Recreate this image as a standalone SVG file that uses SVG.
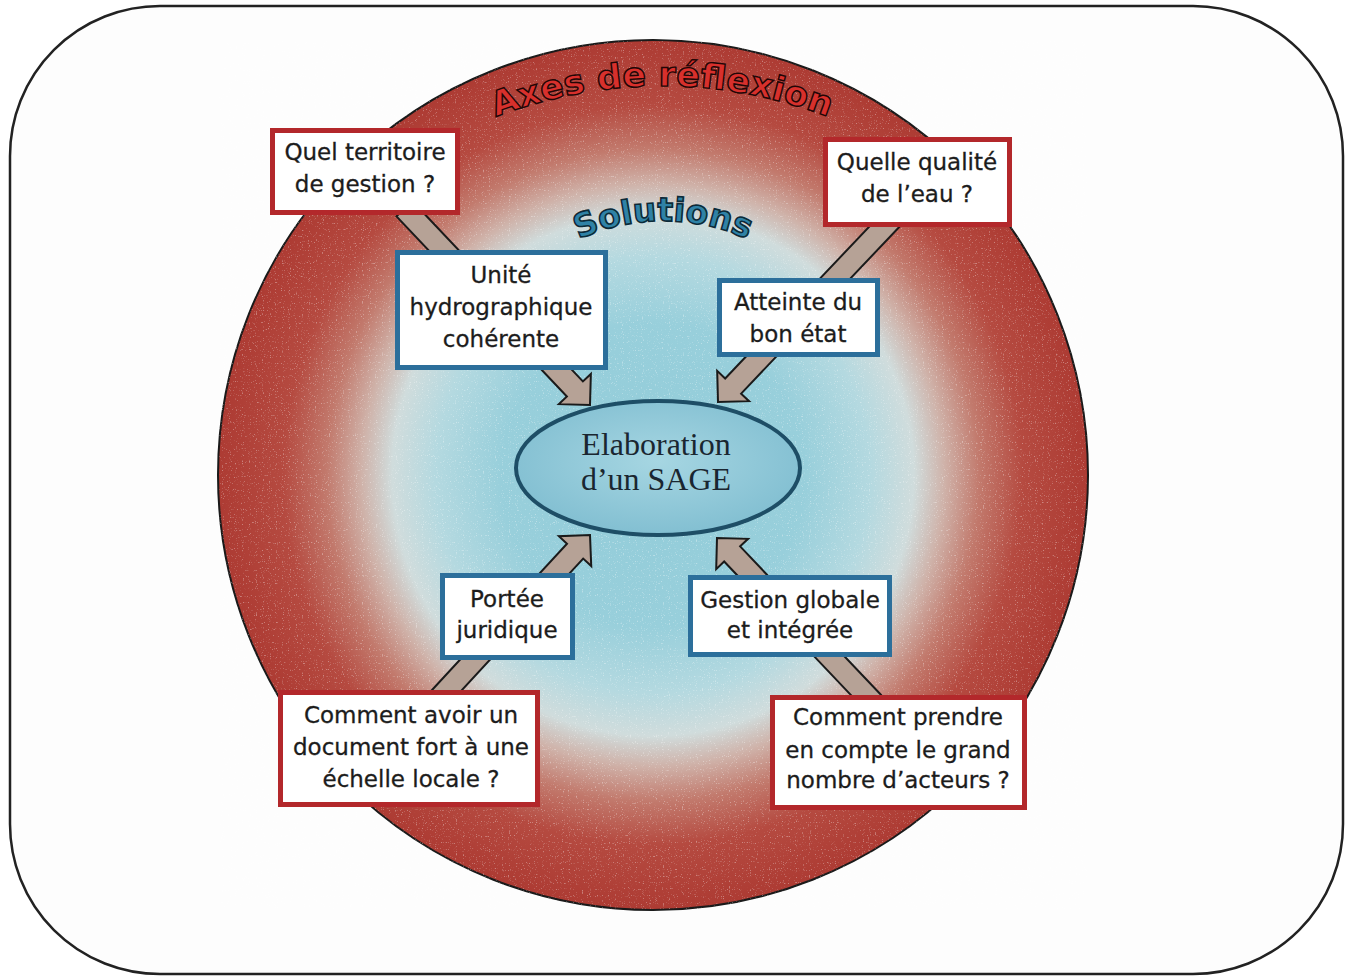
<svg xmlns="http://www.w3.org/2000/svg" xmlns:xlink="http://www.w3.org/1999/xlink" width="1355" height="980" viewBox="0 0 1355 980">
<defs>
<style>
.frame{fill:#fdfdfd;stroke:#222;stroke-width:2.5}
.q{fill:#fff;stroke:#b3282b;stroke-width:5}
.s{fill:#fff;stroke:#2c6f9b;stroke-width:5}
.t{font-family:"DejaVu Sans",Verdana,sans-serif;font-size:23px;fill:#1c1c1c;stroke:#1c1c1c;stroke-width:0.3;text-anchor:middle}
.e{font-family:"Liberation Serif","Times New Roman",serif;font-size:32px;fill:#1a2630;text-anchor:middle}
.arr{fill:#b6a296;stroke:#1a1a1a;stroke-width:2;stroke-linejoin:miter}
.axes{font-family:"DejaVu Sans",sans-serif;font-weight:bold;font-size:34px;fill:#d8302c;stroke:#220606;stroke-width:1.4}
.sol{font-family:"DejaVu Sans",sans-serif;font-weight:bold;font-size:33px;fill:#2f82a6;stroke:#0c2a38;stroke-width:1.6}
</style>
<radialGradient id="disc" cx="653" cy="475" r="435" gradientUnits="userSpaceOnUse">
<stop offset="0" stop-color="#92ccd9"/>
<stop offset="0.35" stop-color="#98cfdb"/>
<stop offset="0.5" stop-color="#b4d9e0"/>
<stop offset="0.6" stop-color="#d0dcdc"/>
<stop offset="0.67" stop-color="#cfb2a9"/>
<stop offset="0.75" stop-color="#c27a6d"/>
<stop offset="0.85" stop-color="#b54a40"/>
<stop offset="1" stop-color="#ad3b33"/>
</radialGradient>
<radialGradient id="ell" cx="0.5" cy="0.45" r="0.6">
<stop offset="0" stop-color="#a6d6e2"/>
<stop offset="1" stop-color="#7fbdd0"/>
</radialGradient>
<filter id="speck" x="0" y="0" width="100%" height="100%">
<feTurbulence type="fractalNoise" baseFrequency="0.85" numOctaves="1" seed="4"/>
<feColorMatrix type="matrix" values="0 0 0 0 1  0 0 0 0 1  0 0 0 0 1  0 0 0 7 -4.3"/>
</filter>
<polygon id="arrow" points="-270,-11 -22,-11 -22,-22 0,0 -22,22 -22,11 -270,11"/>
<path id="axesPath" d="M 442 142 A 460 460 0 0 1 882 142"/>
<path id="solPath" d="M 540 262 A 205 205 0 0 1 786 262"/>
</defs>

<rect class="frame" x="10" y="6" width="1333" height="968" rx="150" ry="150"/>

<g id="disc-bg">
<circle cx="653" cy="475" r="435" fill="url(#disc)" stroke="#1a1a1a" stroke-width="2"/>
<circle cx="653" cy="475" r="434" fill="#fff" filter="url(#speck)" opacity="0.35"/>
<text class="axes"><textPath xlink:href="#axesPath" href="#axesPath" startOffset="50%" text-anchor="middle" textLength="340" lengthAdjust="spacingAndGlyphs">Axes de réflexion</textPath></text>
<text class="sol"><textPath xlink:href="#solPath" href="#solPath" startOffset="50%" text-anchor="middle" textLength="174" lengthAdjust="spacingAndGlyphs">Solutions</textPath></text>
</g>

<g id="connectors">
<use href="#arrow" xlink:href="#arrow" class="arr" transform="translate(590,405) rotate(46.6)"/>
<use href="#arrow" xlink:href="#arrow" class="arr" transform="translate(718,402) rotate(133.5)"/>
<use href="#arrow" xlink:href="#arrow" class="arr" transform="translate(590,535) rotate(-47.3)"/>
<use href="#arrow" xlink:href="#arrow" class="arr" transform="translate(717,538) rotate(-133.5)"/>
</g>

<g id="center">
<ellipse cx="658" cy="468" rx="142" ry="67" fill="url(#ell)" stroke="#1e4e66" stroke-width="4"/>
<text class="e" x="656" y="455">Elaboration</text>
<text class="e" x="656" y="490">d’un SAGE</text>
</g>

<g id="q-territoire">
<rect class="q" x="272.5" y="130.5" width="185" height="82"/>
<text class="t" x="365" y="160">Quel territoire</text>
<text class="t" x="365" y="192">de gestion ?</text>
</g>

<g id="s-unite">
<rect class="s" x="397.5" y="252.5" width="208" height="115"/>
<text class="t" x="501" y="283">Unité</text>
<text class="t" x="501" y="315">hydrographique</text>
<text class="t" x="501" y="347">cohérente</text>
</g>

<g id="q-qualite">
<rect class="q" x="825.5" y="139.5" width="184" height="85"/>
<text class="t" x="917" y="170">Quelle qualité</text>
<text class="t" x="917" y="202">de l’eau ?</text>
</g>

<g id="s-atteinte">
<rect class="s" x="719.5" y="280.5" width="158" height="74"/>
<text class="t" x="798" y="310">Atteinte du</text>
<text class="t" x="798" y="342">bon état</text>
</g>

<g id="s-portee">
<rect class="s" x="442.5" y="575.5" width="130" height="82"/>
<text class="t" x="507" y="607">Portée</text>
<text class="t" x="507" y="638">juridique</text>
</g>

<g id="q-document">
<rect class="q" x="280.5" y="692.5" width="257" height="112"/>
<text class="t" x="411" y="723">Comment avoir un</text>
<text class="t" x="411" y="755">document fort à une</text>
<text class="t" x="411" y="787">échelle locale ?</text>
</g>

<g id="s-gestion">
<rect class="s" x="690.5" y="577.5" width="199" height="77"/>
<text class="t" x="790" y="608">Gestion globale</text>
<text class="t" x="790" y="638">et intégrée</text>
</g>

<g id="q-acteurs">
<rect class="q" x="772.5" y="697.5" width="252" height="110"/>
<text class="t" x="898" y="725">Comment prendre</text>
<text class="t" x="898" y="758">en compte le grand</text>
<text class="t" x="898" y="788">nombre d’acteurs ?</text>
</g>
</svg>
